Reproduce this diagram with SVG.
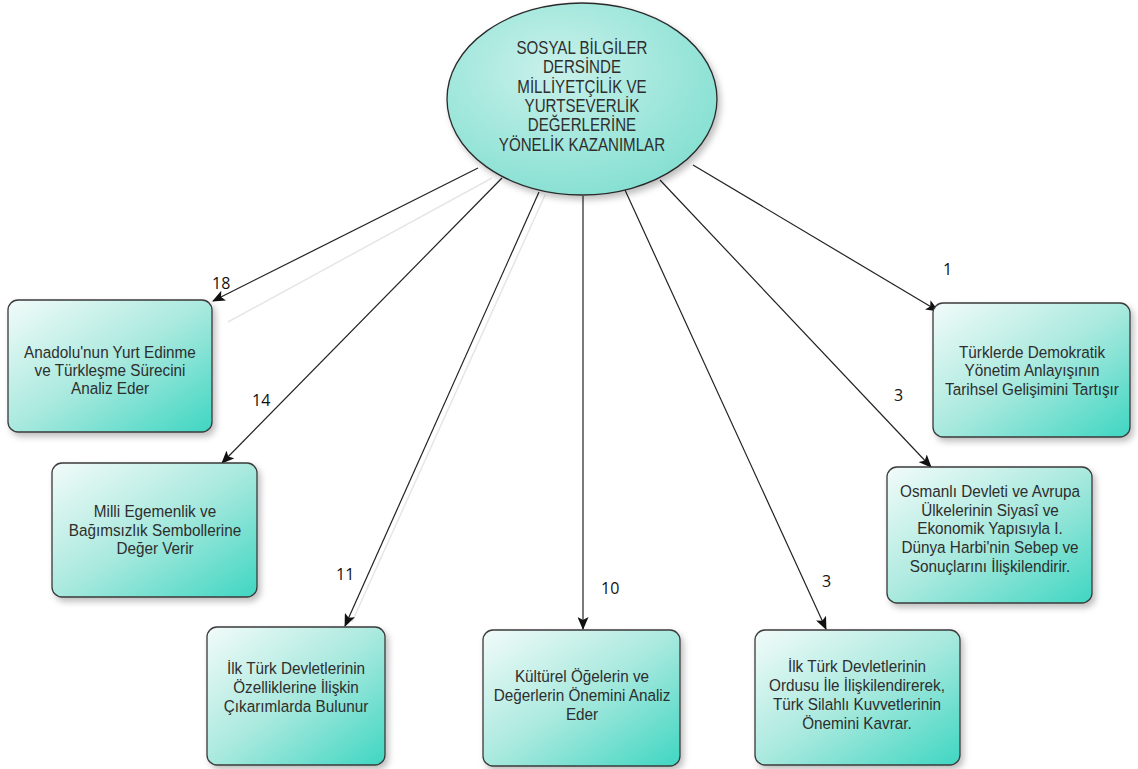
<svg xmlns="http://www.w3.org/2000/svg" width="1138" height="769" viewBox="0 0 1138 769">
<style>
.box{fill:url(#g);stroke:#3a3a3a;stroke-width:1.3;filter:url(#sh)}
.t{font-family:"Liberation Sans",Arial,sans-serif;font-size:17px;fill:#2e2e2e;text-anchor:middle;transform-box:fill-box;transform-origin:center;transform:scaleX(0.9)}
.e{font-size:18px;transform:scaleX(0.84)}
.n{font-family:"Open Sans","Liberation Sans",sans-serif;font-size:16px;fill:#111}
.c{stroke:#222;stroke-width:1.2;fill:none;marker-end:url(#a)}
.f{stroke:#e6e6e6;stroke-width:1.5;fill:none}
</style>
<defs>
<linearGradient id="g" x1="0" y1="0" x2="1" y2="1">
<stop offset="0" stop-color="#f2fbf9"/>
<stop offset="0.5" stop-color="#a9e9de"/>
<stop offset="1" stop-color="#3fd6c2"/>
</linearGradient>
<radialGradient id="ge" cx="0.4" cy="0.35" r="0.75">
<stop offset="0" stop-color="#c9f1ea"/>
<stop offset="1" stop-color="#7fded0"/>
</radialGradient>
<filter id="sh" x="-10%" y="-10%" width="125%" height="125%">
<feDropShadow dx="3" dy="4" stdDeviation="3" flood-color="#000" flood-opacity="0.25"/>
</filter>
<marker id="a" markerWidth="13" markerHeight="11" refX="12" refY="5.5" orient="auto" markerUnits="userSpaceOnUse">
<path d="M0,0 L13,5.5 L0,11 L3,5.5 Z" fill="#111"/>
</marker>
</defs>
<g id="connectors">
<line class="f" x1="492" y1="178" x2="228" y2="322"/>
<line class="f" x1="545" y1="195" x2="352" y2="622"/>
<line class="c" x1="478" y1="168" x2="213" y2="301"/>
<line class="c" x1="502" y1="178" x2="222" y2="463"/>
<line class="c" x1="539" y1="192" x2="345" y2="626"/>
<line class="c" x1="583" y1="196" x2="583" y2="629"/>
<line class="c" x1="625" y1="190" x2="826" y2="629"/>
<line class="c" x1="660" y1="180" x2="931" y2="467"/>
<line class="c" x1="693" y1="165" x2="938" y2="311"/>
</g>
<g id="labels">
<text class="n" x="212" y="289">18</text>
<text class="n" x="943" y="275">1</text>
<text class="n" x="252" y="406">14</text>
<text class="n" x="894" y="401">3</text>
<text class="n" x="336" y="580">11</text>
<text class="n" x="601" y="594">10</text>
<text class="n" x="822" y="587">3</text>
</g>
<g id="root">
<ellipse cx="582" cy="99" rx="135" ry="96" fill="url(#ge)" stroke="#2a2a2a" stroke-width="1.3" filter="url(#sh)"/>
<text class="t e" x="582" y="54">SOSYAL BİLGİLER</text>
<text class="t e" x="582" y="73">DERSİNDE</text>
<text class="t e" x="582" y="93">MİLLİYETÇİLİK VE</text>
<text class="t e" x="582" y="112">YURTSEVERLİK</text>
<text class="t e" x="582" y="131">DEĞERLERİNE</text>
<text class="t e" x="582" y="151">YÖNELİK KAZANIMLAR</text>
</g>
<g id="n-anadolu">
<rect class="box" x="8" y="300" width="204" height="132" rx="10"/>
<text class="t" x="110" y="358">Anadolu'nun Yurt Edinme</text>
<text class="t" x="110" y="376">ve Türkleşme Sürecini</text>
<text class="t" x="110" y="394">Analiz Eder</text>
</g>
<g id="n-demokratik">
<rect class="box" x="933" y="303" width="197" height="134" rx="10"/>
<text class="t" x="1032" y="358">Türklerde Demokratik</text>
<text class="t" x="1032" y="376">Yönetim Anlayışının</text>
<text class="t" x="1032" y="395">Tarihsel Gelişimini Tartışır</text>
</g>
<g id="n-milli">
<rect class="box" x="52" y="463" width="205" height="134" rx="10"/>
<text class="t" x="155" y="517">Milli Egemenlik ve</text>
<text class="t" x="155" y="536">Bağımsızlık Sembollerine</text>
<text class="t" x="155" y="554">Değer Verir</text>
</g>
<g id="n-osmanli">
<rect class="box" x="887" y="467" width="205" height="136" rx="10"/>
<text class="t" x="990" y="497">Osmanlı Devleti ve Avrupa</text>
<text class="t" x="990" y="516">Ülkelerinin Siyasî ve</text>
<text class="t" x="990" y="534">Ekonomik Yapısıyla I.</text>
<text class="t" x="990" y="553">Dünya Harbi'nin Sebep ve</text>
<text class="t" x="990" y="572">Sonuçlarını İlişkilendirir.</text>
</g>
<g id="n-ozellik">
<rect class="box" x="207" y="627" width="178" height="138" rx="10"/>
<text class="t" x="296" y="674">İlk Türk Devletlerinin</text>
<text class="t" x="296" y="693">Özelliklerine İlişkin</text>
<text class="t" x="296" y="712">Çıkarımlarda Bulunur</text>
</g>
<g id="n-kulturel">
<rect class="box" x="483" y="630" width="197" height="136" rx="10"/>
<text class="t" x="582" y="682">Kültürel Öğelerin ve</text>
<text class="t" x="582" y="701">Değerlerin Önemini Analiz</text>
<text class="t" x="582" y="720">Eder</text>
</g>
<g id="n-ordu">
<rect class="box" x="755" y="630" width="205" height="135" rx="10"/>
<text class="t" x="857" y="672">İlk Türk Devletlerinin</text>
<text class="t" x="857" y="691">Ordusu İle İlişkilendirerek,</text>
<text class="t" x="857" y="710">Türk Silahlı Kuvvetlerinin</text>
<text class="t" x="857" y="729">Önemini  Kavrar.</text>
</g>
</svg>
